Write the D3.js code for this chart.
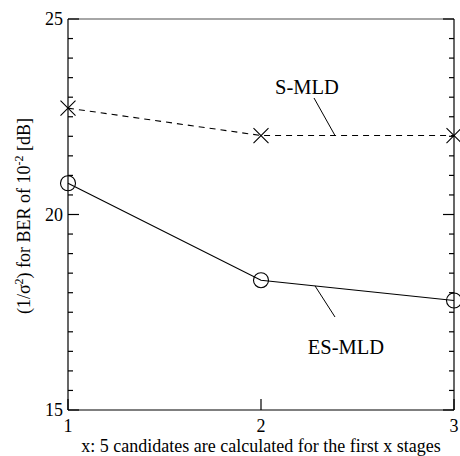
<!DOCTYPE html>
<html><head><meta charset="utf-8">
<script src="https://cdn.jsdelivr.net/npm/d3@7"></script>
<style>body{margin:0;background:#fff}svg{display:block}</style>
</head><body>
<svg id="c" width="460" height="456" font-family="'Liberation Serif', 'Times New Roman', Times, serif"></svg>
<script>
const stages = [1, 2, 3];
const sMLD = [22.72, 22.02, 22.02];
const esMLD = [20.8, 18.32, 17.8];
const yTickLabels = [15, 20, 25];
const xTickLabels = [1, 2, 3];

const svg = d3.select("#c");
const L = 68, R = 454, T = 19, B = 410;
const x = d3.scaleLinear().domain([1, 3]).range([L, R]);
const y = d3.scaleLinear().domain([15, 25]).range([B, T]);

// frame
svg.append("line").attr("x1", L).attr("x2", R).attr("y1", T).attr("y2", T).attr("stroke", "#888").attr("stroke-width", 1.5);
svg.append("line").attr("x1", L).attr("x2", R).attr("y1", B).attr("y2", B).attr("stroke", "#000").attr("stroke-width", 1.2);
svg.append("line").attr("x1", L).attr("x2", L).attr("y1", T).attr("y2", B).attr("stroke", "#000").attr("stroke-width", 1.2);
svg.append("line").attr("x1", R).attr("x2", R).attr("y1", T).attr("y2", B).attr("stroke", "#000").attr("stroke-width", 1.2);

// y ticks (minor every 0.5, major at labels)
const minor = d3.range(15, 25.01, 0.5);
const tg = svg.append("g").attr("stroke", "#000").attr("stroke-width", 1.2);
minor.forEach(v => {
  const major = yTickLabels.includes(v);
  const len = major ? 11 : 5;
  tg.append("line").attr("x1", L).attr("x2", L + len).attr("y1", y(v)).attr("y2", y(v));
  tg.append("line").attr("x1", R).attr("x2", R - len).attr("y1", y(v)).attr("y2", y(v));
});
// x ticks
xTickLabels.forEach(v => {
  tg.append("line").attr("x1", x(v)).attr("x2", x(v)).attr("y1", B).attr("y2", B - 11);
});

// tick labels
svg.append("g").selectAll("text").data(yTickLabels).join("text")
  .attr("x", L - 5).attr("y", d => y(d)).attr("dy", "0.35em")
  .attr("text-anchor", "end").attr("font-size", 18).text(d => d);
svg.append("g").selectAll("text").data(xTickLabels).join("text")
  .attr("x", d => x(d)).attr("y", 432)
  .attr("text-anchor", "middle").attr("font-size", 18).text(d => d);

// axis titles
svg.append("text").attr("x", 261).attr("y", 452).attr("text-anchor", "middle").attr("font-size", 18)
  .text("x: 5 candidates are calculated for the first x stages");
const yl = svg.append("text").attr("transform", "translate(30,216) rotate(-90)")
  .attr("text-anchor", "middle").attr("font-size", 18);
yl.append("tspan").text("(1/σ");
yl.append("tspan").attr("dy", -7).attr("font-size", 12).text("2");
yl.append("tspan").attr("dy", 7).text(") for BER of 10");
yl.append("tspan").attr("dy", -7).attr("font-size", 12).text("-2");
yl.append("tspan").attr("dy", 7).text(" [dB]");

// lines
const line = d3.line().x((d, i) => x(stages[i])).y(d => y(d));
svg.append("path").datum(sMLD).attr("d", line).attr("fill", "none").attr("stroke", "#000")
  .attr("stroke-width", 1.1).attr("stroke-dasharray", "6,5");
svg.append("path").datum(esMLD).attr("d", line).attr("fill", "none").attr("stroke", "#000")
  .attr("stroke-width", 1.1);

// markers
const s = 7.5;
svg.append("g").selectAll("path").data(sMLD).join("path")
  .attr("d", (d, i) => {
    const cx = x(stages[i]), cy = y(d);
    return `M${cx - s},${cy - s}L${cx + s},${cy + s}M${cx - s},${cy + s}L${cx + s},${cy - s}`;
  }).attr("stroke", "#000").attr("stroke-width", 1.1).attr("fill", "none");
svg.append("g").selectAll("circle").data(esMLD).join("circle")
  .attr("cx", (d, i) => x(stages[i])).attr("cy", d => y(d)).attr("r", 7.5)
  .attr("fill", "none").attr("stroke", "#000").attr("stroke-width", 1.1);

// annotations
svg.append("text").attr("x", 307).attr("y", 94).attr("text-anchor", "middle").attr("font-size", 20.5).text("S-MLD");
svg.append("line").attr("x1", 314).attr("y1", 98).attr("x2", 335).attr("y2", y(sMLD[1])).attr("stroke", "#000").attr("stroke-width", 1);
svg.append("text").attr("x", 346).attr("y", 354).attr("text-anchor", "middle").attr("font-size", 20.5).text("ES-MLD");
const ex = 315, ey = y(esMLD[1]) + (y(esMLD[2]) - y(esMLD[1])) * (ex - x(2)) / (x(3) - x(2));
svg.append("line").attr("x1", ex).attr("y1", ey).attr("x2", 335).attr("y2", 317).attr("stroke", "#000").attr("stroke-width", 1);
</script>
</body></html>
